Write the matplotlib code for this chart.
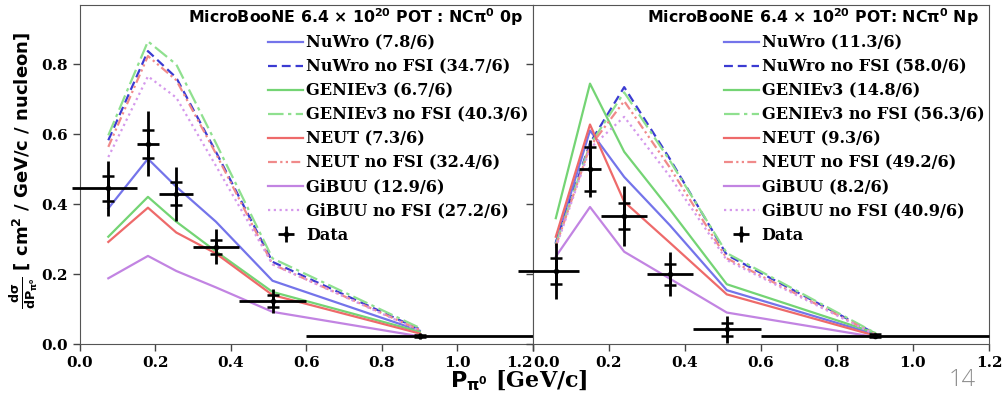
"""
NC pi0 differential cross section vs pi0 momentum, 0p and Np channels,
data compared with generator predictions (with and without FSI).
"""
import numpy as np
import matplotlib
matplotlib.use("Agg")
import matplotlib.pyplot as plt

plt.rcParams["mathtext.fontset"] = "dejavusans"

SERIF = "DejaVu Serif"
SANS = "DejaVu Sans"

# ── 0p channel ───────────────────────────────────────────────────────────────
x_0p = [0.075, 0.18, 0.255, 0.36, 0.51, 0.9]
lo_0p = [-0.02, 0.15, 0.21, 0.30, 0.42, 0.6]
hi_0p = [0.15, 0.21, 0.30, 0.42, 0.6, 1.2]
data_0p = [0.445, 0.573, 0.430, 0.278, 0.123, 0.023]
stat_0p = [0.036, 0.040, 0.033, 0.021, 0.017, 0.004]
tot_0p = [0.079, 0.093, 0.077, 0.050, 0.033, 0.009]
nuwro_0p = [0.388, 0.530, 0.450, 0.350, 0.181, 0.038]
nuwro_nofsi_0p = [0.583, 0.838, 0.762, 0.550, 0.235, 0.042]
genie_0p = [0.307, 0.421, 0.350, 0.265, 0.149, 0.035]
genie_nofsi_0p = [0.597, 0.866, 0.800, 0.575, 0.245, 0.046]
neut_0p = [0.292, 0.390, 0.319, 0.259, 0.140, 0.030]
neut_nofsi_0p = [0.564, 0.824, 0.755, 0.545, 0.228, 0.040]
gibuu_0p = [0.188, 0.252, 0.209, 0.162, 0.092, 0.022]
gibuu_nofsi_0p = [0.535, 0.766, 0.705, 0.510, 0.228, 0.038]
chi2_0p = ["7.8/6", "34.7/6", "6.7/6", "40.3/6", "7.3/6", "32.4/6", "12.9/6", "27.2/6"]

# ── Np channel ───────────────────────────────────────────────────────────────
x_np = [0.06, 0.15, 0.24, 0.36, 0.51, 0.9]
lo_np = [-0.04, 0.12, 0.18, 0.30, 0.42, 0.6]
hi_np = [0.12, 0.18, 0.30, 0.42, 0.6, 1.2]
data_np = [0.209, 0.502, 0.366, 0.199, 0.042, 0.024]
stat_np = [0.037, 0.063, 0.037, 0.030, 0.019, 0.004]
tot_np = [0.081, 0.081, 0.085, 0.063, 0.038, 0.008]
nuwro_np = [0.290, 0.611, 0.478, 0.340, 0.154, 0.028]
nuwro_nofsi_np = [0.290, 0.575, 0.735, 0.530, 0.255, 0.030]
genie_np = [0.360, 0.745, 0.550, 0.385, 0.171, 0.032]
genie_nofsi_np = [0.285, 0.570, 0.720, 0.525, 0.260, 0.032]
neut_np = [0.307, 0.628, 0.407, 0.290, 0.142, 0.024]
neut_nofsi_np = [0.280, 0.565, 0.695, 0.505, 0.245, 0.028]
gibuu_np = [0.250, 0.392, 0.264, 0.187, 0.090, 0.020]
gibuu_nofsi_np = [0.275, 0.560, 0.650, 0.480, 0.240, 0.027]
chi2_np = ["11.3/6", "58.0/6", "14.8/6", "56.3/6", "9.3/6", "49.2/6", "8.2/6", "40.9/6"]

MODELS = ["NuWro", "NuWro no FSI", "GENIEv3", "GENIEv3 no FSI",
          "NEUT", "NEUT no FSI", "GiBUU", "GiBUU no FSI"]
STYLES = [
    dict(color="#7474ea", ls="-"),
    dict(color="#3b3bd2", ls=(0, (4, 2.2))),
    dict(color="#74d474", ls="-"),
    dict(color="#8fe08f", ls=(0, (7, 2, 1.5, 2))),
    dict(color="#ee6a6a", ls="-"),
    dict(color="#f08a8a", ls=(0, (4, 1.5, 1, 1.5, 1, 1.5))),
    dict(color="#c284e2", ls="-"),
    dict(color="#d598ec", ls=(0, (1, 1.6))),
]

W, H = 1003, 393
fig = plt.figure(figsize=(W / 100, H / 100), dpi=100)
ax_l = fig.add_axes([80 / W, 49 / H, 453 / W, 339 / H])
ax_r = fig.add_axes([533 / W, 49 / H, 456 / W, 339 / H], sharey=ax_l)


def draw_panel(ax, x, lo, hi, data, stat, tot, preds, chi2, title):
    for name, y, st, c in zip(MODELS, preds, STYLES, chi2):
        ax.plot(x, y, lw=1.6, label=f"{name} ({c})", **st)
    x = np.array(x)
    xerr = [x - np.array(lo), np.array(hi) - x]
    ax.errorbar(x, data, xerr=xerr, yerr=tot, fmt="o", color="k", ms=3,
                elinewidth=2, capsize=0, label="Data", clip_on=False, zorder=5)
    ax.errorbar(x, data, yerr=stat, fmt="none", ecolor="k", elinewidth=2,
                capsize=4, capthick=1.8, clip_on=False, zorder=5)
    ax.set_xlim(0, 1.2)
    ax.set_ylim(0, 0.97)
    ax.set_xticks(np.arange(0, 1.21, 0.2))
    ax.set_yticks(np.arange(0, 0.81, 0.2))
    ax.tick_params(direction="out", length=5, width=1, color="#444444",
                   labelsize=11)
    for s in ax.spines.values():
        s.set_color("#555555")
    for lab in ax.get_xticklabels() + ax.get_yticklabels():
        lab.set_family(SERIF)
        lab.set_fontweight("bold")
    ax.text(0.977, 0.995, title, transform=ax.transAxes, ha="right", va="top",
            family=SANS, fontweight="bold", fontsize=11.3)
    ax.legend(loc="upper right", bbox_to_anchor=(1.0, 0.928), frameon=False,
              prop=dict(family=SERIF, weight="bold", size=11.6),
              handlelength=2.2, handletextpad=0.15, labelspacing=0.44,
              borderaxespad=0.0, borderpad=0.3)


draw_panel(ax_l, x_0p, lo_0p, hi_0p, data_0p, stat_0p, tot_0p,
           [nuwro_0p, nuwro_nofsi_0p, genie_0p, genie_nofsi_0p,
            neut_0p, neut_nofsi_0p, gibuu_0p, gibuu_nofsi_0p],
           chi2_0p, r"MicroBooNE 6.4 × 10$^{\mathbf{20}}$ POT : NCπ$^{\mathbf{0}}$ 0p")
draw_panel(ax_r, x_np, lo_np, hi_np, data_np, stat_np, tot_np,
           [nuwro_np, nuwro_nofsi_np, genie_np, genie_nofsi_np,
            neut_np, neut_nofsi_np, gibuu_np, gibuu_nofsi_np],
           chi2_np, r"MicroBooNE 6.4 × 10$^{\mathbf{20}}$ POT: NCπ$^{\mathbf{0}}$ Np")

ax_r.tick_params(labelleft=False)
# neighbouring end labels at the shared edge
fig.canvas.draw()
ax_l.get_xticklabels()[-1].set_horizontalalignment("right")
ax_r.get_xticklabels()[0].set_horizontalalignment("left")

ax_l.set_ylabel(r"$\mathbf{\frac{d\sigma}{dP_{\pi^0}}}$ [ cm$^{\mathbf{2}}$ / GeV/c / nucleon]",
                family=SANS, fontweight="bold", fontsize=13)
ax_l.yaxis.set_label_coords(-0.088, 0.513)
fig.text(519 / W, 1 - 381 / H, r"$\mathbf{P_{\pi^0}}$ [GeV/c]", ha="center",
         va="center", family=SERIF, fontweight="bold", fontsize=16)
fig.text(962 / W, 1 - 380 / H, "14", ha="center", va="center",
         family="Open Sans", fontweight="light", fontsize=17, color="#8c8c8c")

fig.savefig("out.png", dpi=100)
